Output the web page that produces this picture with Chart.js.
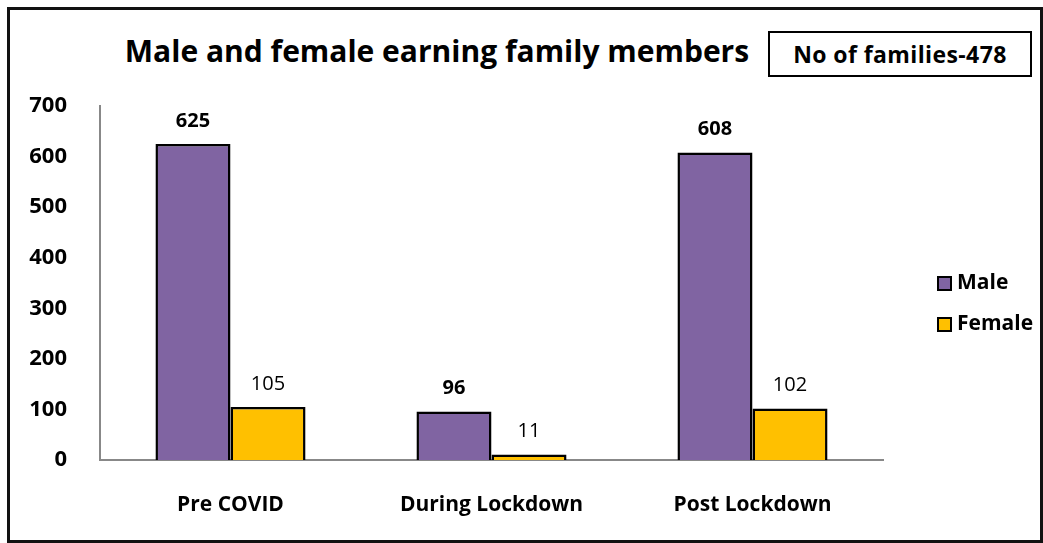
<!DOCTYPE html>
<html>
<head>
<meta charset="utf-8">
<script src="https://cdn.jsdelivr.net/npm/chart.js@4.4.1/dist/chart.umd.min.js"></script>
<style>
  body { margin: 0; background: #fff; font-family: "Open Sans", sans-serif; }
  #wrap { position: relative; width: 1043px; height: 543px; }
  #frame { position: absolute; left: 7px; top: 7px; width: 1030px; height: 530px; border: 3px solid #111; }
  #title { position: absolute; left: 0; top: 30px; width: 874px; text-align: center; font-weight: bold; font-size: 30px; color: #000; }
  #note { position: absolute; left: 768px; top: 31px; width: 260px; height: 42px; border: 2px solid #000;
          font-weight: bold; font-size: 23px; letter-spacing: 0.4px; line-height: 42px; text-align: center; }
  canvas { position: absolute; left: 0; top: 0; }
</style>
</head>
<body>
<div id="wrap">
  <div id="frame"></div>
  <div id="title">Male and female earning family members</div>
  <div id="note">No of families-478</div>
  <canvas id="chart" width="1043" height="543"></canvas>
</div>
<script>
const categories = ["Pre COVID", "During Lockdown", "Post Lockdown"];
const maleValues = [625, 96, 608];
const femaleValues = [105, 11, 102];
const yTicks = [0, 100, 200, 300, 400, 500, 600, 700];

const FONT = "'Open Sans', sans-serif";

// Value labels above each bar
const valueLabels = {
  id: "valueLabels",
  afterDatasetsDraw(chart) {
    const ctx = chart.ctx;
    ctx.save();
    ctx.textAlign = "center";
    ctx.textBaseline = "middle";
    ctx.fillStyle = "#000";
    chart.data.datasets.forEach((ds, i) => {
      const meta = chart.getDatasetMeta(i);
      ctx.font = (i === 0 ? "bold " : "") + "20px " + FONT;
      meta.data.forEach((bar, j) => {
        ctx.fillText(ds.data[j], bar.x, bar.y - 23);
      });
    });
    ctx.restore();
  }
};

// Legend on the right side
const sideLegend = {
  id: "sideLegend",
  afterDraw(chart) {
    const ctx = chart.ctx;
    ctx.save();
    ctx.font = "bold 21px " + FONT;
    ctx.textBaseline = "middle";
    chart.data.datasets.forEach((ds, i) => {
      const y = 283 + i * 41;
      ctx.fillStyle = ds.backgroundColor;
      ctx.fillRect(938, y - 6, 13, 13);
      ctx.lineWidth = 2;
      ctx.strokeStyle = "#000";
      ctx.strokeRect(938, y - 6, 13, 13);
      ctx.fillStyle = "#000";
      ctx.fillText(ds.label, 957, y);
    });
    ctx.restore();
  }
};

new Chart(document.getElementById("chart"), {
  type: "bar",
  data: {
    labels: categories,
    datasets: [
      { label: "Male", data: maleValues, backgroundColor: "#8064A2", borderColor: "#000", borderWidth: 2.5 },
      { label: "Female", data: femaleValues, backgroundColor: "#FFC000", borderColor: "#000", borderWidth: 2.5 }
    ]
  },
  options: {
    responsive: false,
    animation: false,
    categoryPercentage: 0.575,
    barPercentage: 1,
    layout: { padding: { left: 20, right: 160, top: 106, bottom: 0 } },
    plugins: { legend: { display: false }, tooltip: { enabled: false } },
    scales: {
      x: {
        grid: { display: false },
        border: { display: true, color: "#888", width: 2 },
        ticks: { color: "#000", font: { family: FONT, size: 21, weight: "bold" }, padding: 24 },
        afterFit(scale) { scale.height = 83; }
      },
      y: {
        min: 0,
        max: 700,
        grid: { display: false },
        border: { display: true, color: "#888", width: 2 },
        afterBuildTicks(scale) { scale.ticks = yTicks.map(v => ({ value: v })); },
        ticks: { color: "#000", font: { family: FONT, size: 22, weight: "bold" }, padding: 25 },
        afterFit(scale) { scale.width = 80; }
      }
    }
  },
  plugins: [valueLabels, sideLegend]
});
</script>
</body>
</html>
